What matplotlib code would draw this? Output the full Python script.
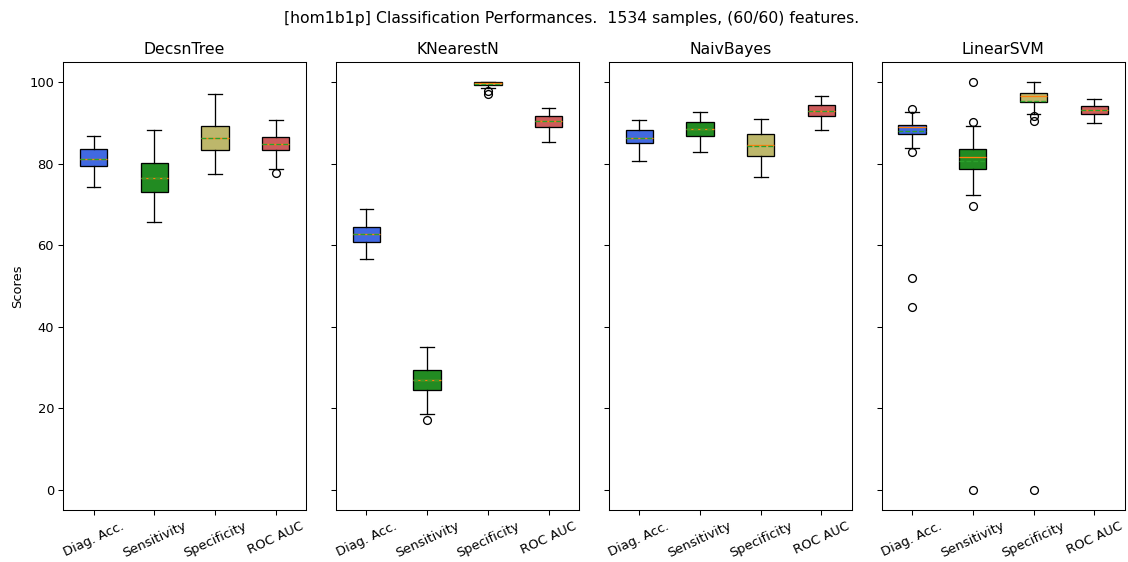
#!/usr/bin/env python3
"""Boxplots of classification scores per classifier."""

import matplotlib
matplotlib.use("Agg")
import matplotlib.pyplot as plt

metrics = ["Diag. Acc.", "Sensitivity", "Specificity", "ROC AUC"]
classifiers = ["DecsnTree", "KNearestN", "NaivBayes", "LinearSVM"]
box_colors = ["royalblue", "forestgreen", "darkkhaki", "indianred"]

# per classifier, per metric: (whislo, q1, med, q3, whishi), mean, fliers
decsn_stats = [(74.2, 79.4, 81.2, 83.7, 86.8), (65.8, 73.1, 76.4, 80.2, 88.2),
               (77.5, 83.3, 86.3, 89.3, 97.2), (78.8, 83.3, 84.9, 86.6, 90.8)]
decsn_means = [81.2, 76.4, 86.3, 84.9]
decsn_fliers = [[], [], [], [77.8]]

knn_stats = [(56.7, 60.8, 62.8, 64.5, 69.0), (18.6, 24.4, 27.0, 29.5, 35.1),
             (98.7, 99.3, 99.8, 100.0, 100.0), (85.4, 89.1, 90.4, 91.7, 93.7)]
knn_means = [62.8, 27.0, 99.6, 90.4]
knn_fliers = [[], [17.1], [97.9, 97.2], []]

nb_stats = [(80.6, 85.1, 86.3, 88.3, 90.8), (83.0, 86.7, 88.6, 90.3, 92.7),
            (76.8, 81.8, 84.6, 87.2, 91.0), (88.2, 91.6, 92.9, 94.3, 96.5)]
nb_means = [86.4, 88.6, 84.4, 93.0]
nb_fliers = [[], [], [], []]

svm_stats = [(83.9, 87.2, 88.9, 89.6, 92.7), (72.3, 78.7, 81.6, 83.5, 89.3),
             (92.3, 95.1, 96.6, 97.3, 100.0), (90.1, 92.3, 93.2, 94.1, 96.0)]
svm_means = [88.0, 80.6, 95.4, 93.2]
svm_fliers = [[93.5, 82.8, 51.9, 44.8], [100.0, 90.3, 69.7, 0.0],
              [91.7, 90.5, 0.0], []]

all_stats = [decsn_stats, knn_stats, nb_stats, svm_stats]
all_means = [decsn_means, knn_means, nb_means, svm_means]
all_fliers = [decsn_fliers, knn_fliers, nb_fliers, svm_fliers]

DPI = 94


def main():
    fig, axes = plt.subplots(1, 4, figsize=(1128 / DPI, 562 / DPI), dpi=DPI,
                             sharey=True)

    for ax, name, stats, means, fliers in zip(axes, classifiers, all_stats,
                                              all_means, all_fliers):
        bxp_stats = []
        for label, s, m, f in zip(metrics, stats, means, fliers):
            bxp_stats.append({
                "label": label, "whislo": s[0], "q1": s[1], "med": s[2],
                "q3": s[3], "whishi": s[4], "mean": m, "fliers": f,
            })
        bp = ax.bxp(bxp_stats, patch_artist=True, showmeans=True, meanline=True)
        for patch, color in zip(bp["boxes"], box_colors):
            patch.set_facecolor(color)
        ax.set_title(name)
        ax.tick_params(axis="x", labelrotation=25)

    axes[0].set_ylabel("Scores")
    fig.suptitle("[hom1b1p] Classification Performances.  1534 samples, (60/60) features.",
                 x=0.507, y=0.98)
    fig.subplots_adjust(left=0.056, right=0.997, top=0.89, bottom=0.092, wspace=0.123)
    fig.savefig("out.png", dpi=DPI)


if __name__ == "__main__":
    main()
